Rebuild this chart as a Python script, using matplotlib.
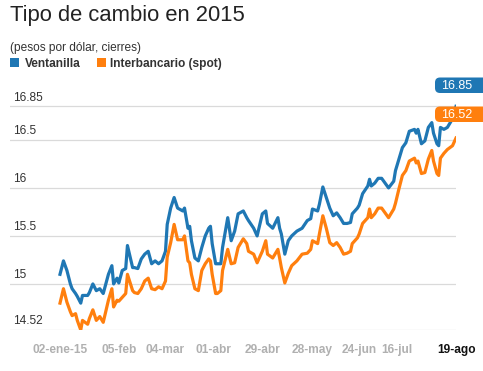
import matplotlib
matplotlib.use("Agg")
import matplotlib.pyplot as plt
import matplotlib.dates as mdates
import pandas as pd
from matplotlib.patches import Rectangle, FancyBboxPatch
from matplotlib.transforms import IdentityTransform

# ── data ─────────────────────────────────────────────────────────────────────
fechas = [
    "2015-01-02", "2015-01-04", "2015-01-06", "2015-01-08", "2015-01-09",
    "2015-01-11", "2015-01-12", "2015-01-14", "2015-01-15", "2015-01-18",
    "2015-01-19", "2015-01-21", "2015-01-23", "2015-01-25", "2015-01-27",
    "2015-01-30", "2015-02-01", "2015-02-02", "2015-02-04", "2015-02-05",
    "2015-02-07", "2015-02-09", "2015-02-10", "2015-02-13", "2015-02-14",
    "2015-02-16", "2015-02-18", "2015-02-20", "2015-02-22", "2015-02-24",
    "2015-02-26", "2015-02-28", "2015-03-02", "2015-03-04", "2015-03-05",
    "2015-03-07", "2015-03-09", "2015-03-11", "2015-03-14", "2015-03-15",
    "2015-03-17", "2015-03-18", "2015-03-19", "2015-03-21", "2015-03-23",
    "2015-03-25", "2015-03-27", "2015-03-29", "2015-03-30", "2015-03-31",
    "2015-04-02", "2015-04-03", "2015-04-05", "2015-04-06", "2015-04-09",
    "2015-04-11", "2015-04-13", "2015-04-15", "2015-04-18", "2015-04-20",
    "2015-04-21", "2015-04-24", "2015-04-26", "2015-04-29", "2015-05-01",
    "2015-05-02", "2015-05-05", "2015-05-08", "2015-05-09", "2015-05-10",
    "2015-05-12", "2015-05-14", "2015-05-16", "2015-05-19", "2015-05-22",
    "2015-05-25", "2015-05-27", "2015-05-28", "2015-05-31", "2015-06-01",
    "2015-06-03", "2015-06-05", "2015-06-07", "2015-06-09", "2015-06-11",
    "2015-06-13", "2015-06-15", "2015-06-17", "2015-06-19", "2015-06-20",
    "2015-06-23", "2015-06-24", "2015-06-26", "2015-06-29", "2015-06-30",
    "2015-07-01", "2015-07-03", "2015-07-05", "2015-07-07", "2015-07-09",
    "2015-07-11", "2015-07-14", "2015-07-15", "2015-07-17", "2015-07-19",
    "2015-07-21", "2015-07-23", "2015-07-26", "2015-07-27", "2015-07-28",
    "2015-07-30", "2015-08-01", "2015-08-03", "2015-08-05", "2015-08-06",
    "2015-08-08", "2015-08-09", "2015-08-10", "2015-08-12", "2015-08-14",
    "2015-08-17", "2015-08-19",
]

ventanilla = [
    15.10, 15.24, 15.14, 15.00, 14.95, 14.90, 14.87, 14.80, 14.88, 14.88,
    14.91, 15.00, 14.93, 14.95, 14.90, 15.10, 15.19, 15.00, 15.06, 15.01,
    15.14, 15.16, 15.40, 15.17, 15.17, 15.16, 15.26, 15.31, 15.34, 15.21,
    15.24, 15.21, 15.24, 15.34, 15.62, 15.79, 15.90, 15.79, 15.76, 15.79,
    15.58, 15.60, 15.45, 15.27, 15.24, 15.38, 15.50, 15.58, 15.60, 15.42,
    15.21, 15.21, 15.21, 15.38, 15.69, 15.45, 15.55, 15.73, 15.76, 15.69,
    15.66, 15.58, 15.50, 15.73, 15.76, 15.63, 15.58, 15.69, 15.58, 15.52,
    15.31, 15.45, 15.50, 15.55, 15.58, 15.66, 15.68, 15.78, 15.76, 15.83,
    16.01, 15.90, 15.79, 15.71, 15.74, 15.69, 15.63, 15.63, 15.64, 15.73,
    15.79, 15.82, 15.94, 16.02, 16.09, 16.02, 16.05, 16.10, 16.10, 16.05,
    16.00, 16.07, 16.18, 16.30, 16.42, 16.47, 16.59, 16.61, 16.57, 16.61,
    16.46, 16.49, 16.63, 16.68, 16.57, 16.46, 16.44, 16.63, 16.61, 16.63,
    16.72, 16.85,
]

interbancario = [
    14.80, 14.95, 14.81, 14.71, 14.67, 14.69, 14.62, 14.52, 14.62, 14.58,
    14.64, 14.73, 14.62, 14.66, 14.60, 14.83, 14.95, 14.76, 14.83, 14.82,
    14.86, 14.90, 15.10, 14.93, 14.91, 14.90, 14.95, 15.03, 15.06, 14.95,
    14.94, 14.97, 14.95, 15.03, 15.28, 15.43, 15.62, 15.46, 15.46, 15.50,
    15.24, 15.22, 15.10, 14.95, 14.93, 15.14, 15.21, 15.26, 15.24, 15.10,
    14.90, 14.90, 14.93, 15.14, 15.36, 15.21, 15.22, 15.38, 15.47, 15.42,
    15.34, 15.31, 15.22, 15.34, 15.45, 15.31, 15.27, 15.36, 15.27, 15.17,
    15.01, 15.11, 15.19, 15.24, 15.31, 15.32, 15.36, 15.45, 15.42, 15.52,
    15.71, 15.58, 15.43, 15.40, 15.43, 15.38, 15.31, 15.32, 15.34, 15.42,
    15.48, 15.52, 15.63, 15.69, 15.78, 15.69, 15.73, 15.79, 15.79, 15.74,
    15.69, 15.78, 15.84, 15.99, 16.13, 16.18, 16.28, 16.31, 16.26, 16.28,
    16.15, 16.16, 16.30, 16.39, 16.28, 16.15, 16.13, 16.31, 16.36, 16.40,
    16.44, 16.52,
]

ytick_vals = [14.52, 15, 15.5, 16, 16.5, 16.85]
ytick_labels = ["14.52", "15", "15.5", "16", "16.5", "16.85"]
xtick_fechas = ["2015-01-02", "2015-02-05", "2015-03-04", "2015-04-01",
                "2015-04-29", "2015-05-28", "2015-06-24", "2015-07-16",
                "2015-08-19"]
xtick_labels = ["02-ene-15", "05-feb", "04-mar", "01-abr", "29-abr",
                "28-may", "24-jun", "16-jul", "19-ago"]

# ── style ─────────────────────────────────────────────────────────────────────
W, H, DPI = 483, 371, 100
AZUL = "#1f77b4"
NARANJA = "#ff7f0e"
GRID = "#dadada"
plt.rcParams["font.family"] = ["Liberation Sans", "DejaVu Sans"]


def px(x, y):
    """pixel (from top-left) -> figure fraction"""
    return x / W, 1 - y / H


fig = plt.figure(figsize=(W / DPI, H / DPI), dpi=DPI)

# plot area: x 10..456 px, y 81..330 px (14.52 at 330, 96 px per peso)
ax = fig.add_axes([10 / W, (H - 330) / H, 446 / W, 249 / H])
ymin = 14.52
ax.set_ylim(ymin, ymin + 249 / 96)

x = pd.to_datetime(fechas)
x0 = mdates.date2num(pd.Timestamp("2015-01-02"))
x1 = mdates.date2num(pd.Timestamp("2015-08-19"))
ax.set_xlim(x0 - 50 / 396 * (x1 - x0), x1)

ax.plot(x, ventanilla, color=AZUL, lw=2.3, solid_joinstyle="round", zorder=3)
ax.plot(x, interbancario, color=NARANJA, lw=2.3, solid_joinstyle="round", zorder=3)

for s in ax.spines.values():
    s.set_visible(False)
ax.set_yticks(ytick_vals)
ax.set_yticklabels([])
ax.grid(axis="y", color=GRID, lw=0.9)
ax.tick_params(length=0)
ax.set_axisbelow(True)

for v, lab in zip(ytick_vals, ytick_labels):
    ax.annotate(lab, xy=(0, v), xycoords=("axes fraction", "data"),
                xytext=(3, 5.5), textcoords="offset pixels",
                ha="left", va="baseline", fontsize=8.6, color="#333333")

ax.set_xticks(pd.to_datetime(xtick_fechas))
ax.set_xticklabels(xtick_labels, fontsize=8.6, fontweight="bold",
                   color="#b0b0b0")
ax.tick_params(axis="x", pad=10)
ax.get_xticklabels()[-1].set_color("#111111")

# end-value pills, running off the right edge like the reference
for serie, color, top in ((ventanilla, AZUL, 77.5), (interbancario, NARANJA, 106.5)):
    h = 15.5
    fig.add_artist(FancyBboxPatch((435, H - top - h), 70, h,
                                  boxstyle="round,pad=0,rounding_size=5",
                                  transform=IdentityTransform(),
                                  fc=color, ec="none", zorder=5))
    fig.text(*px(441, top + h / 2 + 0.5), f"{serie[-1]:.2f}", fontsize=9,
             color="white", ha="left", va="center", zorder=6)

# title, subtitle, legend
fig.text(*px(10, 21), "Tipo de cambio en 2015", fontsize=15.8,
         color="#222222", va="baseline", ha="left")
fig.text(*px(10, 51), "(pesos por dólar, cierres)", fontsize=8.6,
         color="#333333", va="baseline", ha="left")

for x_box, x_txt, lab, color in ((10, 25, "Ventanilla", AZUL),
                                 (97, 110, "Interbancario (spot)", NARANJA)):
    bx, by = px(x_box, 67)
    fig.add_artist(Rectangle((bx, by), 9 / W, 9 / H, transform=fig.transFigure,
                             fc=color, ec="none"))
    fig.text(*px(x_txt, 67), lab, fontsize=8.6, fontweight="bold",
             color="#333333", va="baseline", ha="left")

fig.savefig("out.png", dpi=DPI)
